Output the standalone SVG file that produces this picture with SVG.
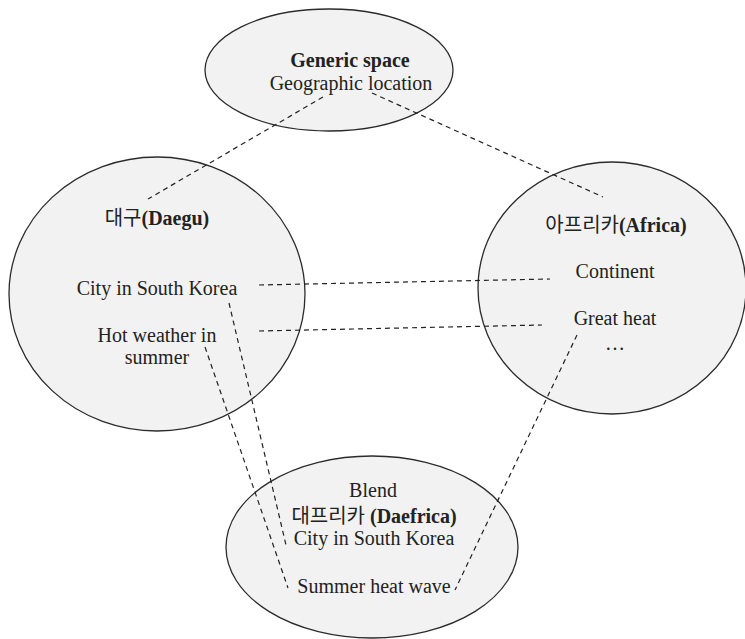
<svg xmlns="http://www.w3.org/2000/svg" width="745" height="639" viewBox="0 0 745 639">
<style>
.shape{fill:#f2f2f2;stroke:#2b2b2b;stroke-width:1.3}
.t{font-family:"Liberation Serif","Noto Sans CJK KR",serif;font-size:20px;fill:#222;text-anchor:middle}
.b{font-weight:bold}
.k{font-family:"Noto Sans CJK KR",sans-serif;font-weight:normal}
.c line{stroke:#222;stroke-width:1.2;stroke-dasharray:5 4;fill:none}
</style>
<rect width="745" height="639" fill="#ffffff"/>
<g id="generic">
<ellipse class="shape" cx="329" cy="70" rx="124" ry="61"/>
<text class="t b" x="350" y="67">Generic space</text>
<text class="t" x="351" y="90">Geographic location</text>
</g>
<g id="daegu">
<ellipse class="shape" cx="157" cy="294" rx="148" ry="137"/>
<text class="t" x="157" y="225"><tspan class="k">대구</tspan><tspan class="b">(Daegu)</tspan></text>
<text class="t" x="157" y="295">City in South Korea</text>
<text class="t" x="157" y="342">Hot weather in</text>
<text class="t" x="157" y="364">summer</text>
</g>
<g id="africa">
<ellipse class="shape" cx="612" cy="288" rx="134" ry="126"/>
<text class="t" x="616" y="232"><tspan class="k">아프리카</tspan><tspan class="b">(Africa)</tspan></text>
<text class="t" x="615" y="278">Continent</text>
<text class="t" x="615" y="325">Great heat</text>
<text class="t" x="615" y="350">…</text>
</g>
<g id="blend">
<ellipse class="shape" cx="372" cy="547" rx="146" ry="91"/>
<text class="t" x="373" y="497">Blend</text>
<text class="t" x="374" y="523"><tspan class="k">대프리카</tspan><tspan class="b"> (Daefrica)</tspan></text>
<text class="t" x="374" y="545">City in South Korea</text>
<text class="t" x="374" y="593">Summer heat wave</text>
</g>
<g id="connectors" class="c">
<line x1="323" y1="97" x2="148" y2="199"/>
<line x1="372" y1="93" x2="603" y2="197"/>
<line x1="259" y1="285" x2="550" y2="279"/>
<line x1="259" y1="331" x2="542" y2="325"/>
<line x1="229" y1="303" x2="286" y2="545"/>
<line x1="205" y1="347" x2="288" y2="588"/>
<line x1="577" y1="335" x2="455" y2="590"/>
</g>
</svg>
